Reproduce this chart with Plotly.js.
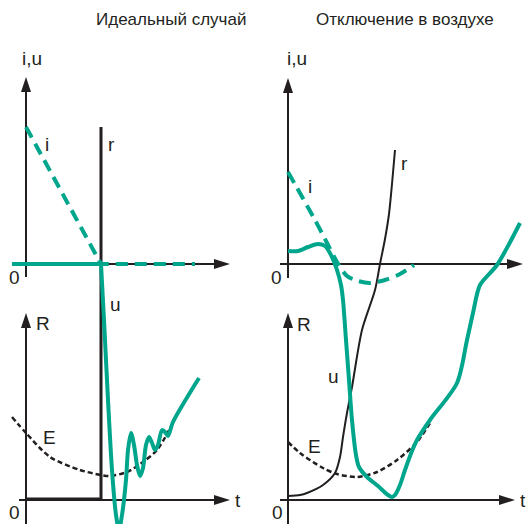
<!DOCTYPE html>
<html>
<head>
<meta charset="utf-8">
<script src="https://cdn.plot.ly/plotly-3.0.1.min.js"></script>
<style>html,body{margin:0;padding:0;background:#fff}#chart{width:529px;height:524px}</style>
</head>
<body>
<div id="chart"></div>
<script>
// Titles
const titleLeft = "Идеальный случай";
const titleRight = "Отключение в воздухе";

// Left panel (ideal case): time t and value v (i,u upper origin at v=0, R origin at v=-236)
const leftI_t = [0, 75, 169];
const leftI_v = [137, 0, 0];
const leftUflat_t = [-14, 75];
const leftUflat_v = [0, 0];
const leftU_t = [75, 78, 82, 86, 90, 93, 96, 100, 102, 105, 108, 111, 114, 117, 120, 123, 126, 129, 132, 136, 139, 142, 147, 173];
const leftU_v = [0, -56, -136, -206, -251, -266, -251, -216, -186, -169, -181, -201, -212, -204, -181, -173, -179, -186, -181, -166, -168, -172, -158, -114];
const leftR_t = [0, 75, 75];
const leftR_v = [-235, -235, 137];
const leftE_t = [-14, 0, 24, 54, 75, 84, 101, 117, 131, 147];
const leftE_v = [-153, -169, -193, -206, -211, -212, -208, -198, -186, -159];

// Right panel (breaking in air)
const rightI_t = [0, 27, 37, 49, 59, 70, 82, 97, 112, 126];
const rightI_v = [92, 44, 25, 2, -12, -17, -19, -16, -10, -1];
const rightU_t = [0, 10, 20, 30, 37, 44, 49, 53, 55, 58, 61, 64, 68, 71, 79, 90, 100, 104, 107, 112, 117, 124, 129, 142, 169, 179, 185, 192, 209, 232];
const rightU_v = [13, 13, 17, 20, 18, 7, -6, -21, -36, -76, -116, -156, -191, -203, -213, -222, -231, -233, -231, -221, -206, -187, -176, -156, -119, -76, -49, -21, -1, 41];
const rightR_t = [0, 12, 19, 35, 47, 52, 55, 59, 64, 74, 87, 92, 97, 101, 104, 107];
const rightR_v = [-232, -231, -229, -221, -209, -193, -173, -149, -123, -66, -26, 0, 25, 50, 80, 114];
const rightE_t = [0, 12, 35, 49, 69, 89, 109, 129, 142];
const rightE_v = [-178, -189, -204, -210, -213, -208, -196, -178, -159];

const TEAL = "#00a68c";
const BLACK = "#231f20";
const FONT = "'Liberation Sans Narrow', 'Liberation Sans', Arial, sans-serif";

function tr(t, v, xa, color, width, dash, shape) {
  return {x: t, y: v, xaxis: xa, yaxis: "y", type: "scatter", mode: "lines",
    hoverinfo: "skip", showlegend: false,
    line: {color: color, width: width, dash: dash || "solid", shape: shape || "linear", smoothing: 0.8}};
}

const data = [
  tr(leftE_t, leftE_v, "x", BLACK, 2.5, "5px,3px", "spline"),
  tr(leftR_t, leftR_v, "x", BLACK, 3),
  tr(leftI_t, leftI_v, "x", TEAL, 4, "12px,7px"),
  tr(leftUflat_t, leftUflat_v, "x", TEAL, 4),
  tr(leftU_t, leftU_v, "x", TEAL, 4, "solid", "spline"),
  tr(rightE_t, rightE_v, "x2", BLACK, 2.5, "5px,3px", "spline"),
  tr(rightR_t, rightR_v, "x2", BLACK, 2, "solid", "spline"),
  tr(rightI_t, rightI_v, "x2", TEAL, 4, "12px,7px", "spline"),
  tr(rightU_t, rightU_v, "x2", TEAL, 4, "solid", "spline")
];

// axes drawn as arrows
const shapes = [];
function line(xref, x0, y0, x1, y1) {
  shapes.push({type: "line", xref: xref, yref: "y", x0: x0, y0: y0, x1: x1, y1: y1,
    line: {color: BLACK, width: 2}, layer: "below"});
}
function arrowUp(xref, t, v) {
  shapes.push({type: "path", xref: xref, yref: "y",
    path: `M ${t} ${v} L ${t - 5} ${v - 15} L ${t + 5} ${v - 15} Z`,
    fillcolor: BLACK, line: {color: BLACK, width: 0}});
}
function arrowRight(xref, t, v) {
  shapes.push({type: "path", xref: xref, yref: "y",
    path: `M ${t} ${v} L ${t - 16} ${v + 5} L ${t - 16} ${v - 5} Z`,
    fillcolor: BLACK, line: {color: BLACK, width: 0}});
}
// left
line("x", 0, -13, 0, 180); arrowUp("x", 0, 187);
line("x", -6, 0, 196, 0); arrowRight("x", 204, 0);
line("x", 0, -262, 0, -56); arrowUp("x", 0, -49);
line("x", -7, -236, 196, -236); arrowRight("x", 204, -236);
// right
line("x2", 0, -14, 0, 180); arrowUp("x2", 0, 186);
line("x2", -8, 0, 227, 0); arrowRight("x2", 235, 0);
line("x2", 0, -262, 0, -56); arrowUp("x2", 0, -49);
line("x2", -8, -236, 220, -236); arrowRight("x2", 227, -236);

const annotations = [];
function lab(xref, t, v, text, size) {
  annotations.push({xref: xref, yref: "y", x: t, y: v, text: text, showarrow: false,
    xanchor: "center", yanchor: "middle", font: {family: FONT, size: size || 19, color: BLACK}});
}
lab("x", 6, 206, "i,u"); lab("x", -12, -13, "0"); lab("x", 21, 120, "i");
lab("x", 85, 120, "r"); lab("x", 89, -40, "u"); lab("x", 17, -59, "R");
lab("x", 23, -173, "E"); lab("x", -12, -248, "0"); lab("x", 212, -236, "t");
lab("x2", 9, 206, "i,u"); lab("x2", -12, -13, "0"); lab("x2", 22, 78, "i");
lab("x2", 116, 101, "r"); lab("x2", 45, -112, "u"); lab("x2", 16, -60, "R");
lab("x2", 26, -182, "E"); lab("x2", -11, -248, "0"); lab("x2", 235, -236, "t");

annotations.push({xref: "paper", yref: "paper", x: 171 / 529, y: 1 - 20 / 524, text: titleLeft,
  showarrow: false, xanchor: "center", yanchor: "middle", font: {family: FONT, size: 17, color: BLACK}});
annotations.push({xref: "paper", yref: "paper", x: 405 / 529, y: 1 - 20 / 524, text: titleRight,
  showarrow: false, xanchor: "center", yanchor: "middle", font: {family: FONT, size: 17, color: BLACK}});

const hidden = {visible: false, showgrid: false, zeroline: false, fixedrange: true};
const layout = {
  width: 529, height: 524,
  margin: {l: 0, r: 0, t: 0, b: 0, pad: 0},
  paper_bgcolor: "#ffffff", plot_bgcolor: "#ffffff",
  xaxis: Object.assign({domain: [0, 0.5], range: [-26, 238.5], anchor: "y"}, hidden),
  xaxis2: Object.assign({domain: [0.5, 1], range: [-23.5, 241], anchor: "y"}, hidden),
  yaxis: Object.assign({domain: [0, 1], range: [-260, 264], anchor: "x"}, hidden),
  shapes: shapes,
  annotations: annotations,
  showlegend: false
};

Plotly.newPlot("chart", data, layout, {staticPlot: true, displayModeBar: false});
</script>
</body>
</html>
